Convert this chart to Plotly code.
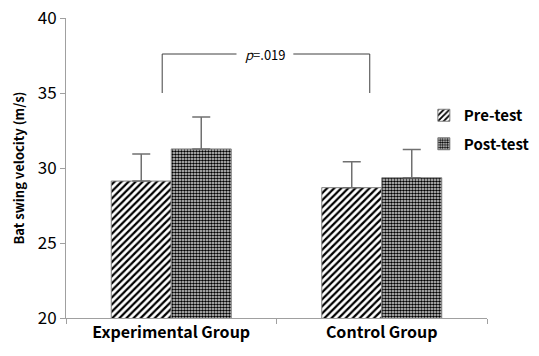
import plotly.graph_objects as go

groups = ["Experimental Group", "Control Group"]
pre_mean = [29.13, 28.69]
pre_sd = [1.8, 1.73]
post_mean = [31.27, 29.35]
post_sd = [2.13, 1.89]
y_ticks = [20, 25, 30, 35, 40]
p_label = "<i>p</i>=.019"

FONT = "Noto Sans CJK KR"

fig = go.Figure()
fig.add_trace(go.Bar(
    name="<b>Pre-test</b>", x=groups, y=pre_mean, legendgroup="a",
    marker=dict(color="white", line=dict(color="#808080", width=1),
                pattern=dict(shape="/", fgcolor="black", bgcolor="white", fgopacity=1,
                             size=5, solidity=0.45)),
    error_y=dict(type="data", array=pre_sd, arrayminus=[0, 0], symmetric=False,
                 color="#707070", thickness=1.5, width=9),
))
fig.add_trace(go.Bar(
    name="<b>Post-test</b>", x=groups, y=post_mean, legendgroup="b",
    marker=dict(color="white", line=dict(color="#808080", width=1),
                pattern=dict(shape=".", fgcolor="black", bgcolor="#e8e8e8", fgopacity=1,
                             size=3, solidity=0.6)),
    error_y=dict(type="data", array=post_sd, arrayminus=[0, 0], symmetric=False,
                 color="#707070", thickness=1.5, width=9),
))

# significance bracket
y_top = 37.6
y_bot = 35.0
xl, xr = -0.043, 0.943
line = dict(color="#404040", width=1)
fig.add_shape(type="line", xref="x", yref="y", x0=xl, x1=xl, y0=y_bot, y1=y_top, line=line)
fig.add_shape(type="line", xref="x", yref="y", x0=xr, x1=xr, y0=y_bot, y1=y_top, line=line)
fig.add_shape(type="line", xref="x", yref="y", x0=xl, x1=0.31, y0=y_top, y1=y_top, line=line)
fig.add_shape(type="line", xref="x", yref="y", x0=0.58, x1=xr, y0=y_top, y1=y_top, line=line)
fig.add_annotation(x=0.45, y=y_top, xref="x", yref="y", text=p_label, showarrow=False,
                   font=dict(family=FONT, size=13, color="black"))

fig.update_layout(
    width=539, height=356,
    margin=dict(l=66, r=52, t=18, b=38, autoexpand=False),
    paper_bgcolor="white", plot_bgcolor="white",
    barmode="group", bargap=0.43, bargroupgap=0,
    font=dict(family=FONT, color="black"),
    showlegend=True,
    legend=dict(x=0.85, y=0.73, xanchor="left", yanchor="top", bgcolor="rgba(0,0,0,0)",
                font=dict(family=FONT, size=15, color="black"), itemwidth=30,
                tracegroupgap=6),
    xaxis=dict(showline=True, linecolor="#a0a0a0", linewidth=1, ticks="outside",
               tickson="boundaries", ticklen=5, tickcolor="#a0a0a0", automargin=False,
               tickfont=dict(family=FONT, size=16, color="black"),
               tickvals=groups, ticktext=["<b>" + g + "</b>" for g in groups]),
    yaxis=dict(range=[20, 40], tickvals=y_ticks, showline=True, linecolor="#a0a0a0", linewidth=1,
               ticks="outside", ticklen=5, tickcolor="#a0a0a0", showgrid=False, zeroline=False,
               automargin=False, ticklabeloverflow="allow",
               tickfont=dict(family=FONT, size=17, color="black"),
               title=dict(text="<b>Bat swing velocity (m/s)</b>", font=dict(family=FONT, size=13), standoff=10)),
)

fig.write_html("out.html", config={"displayModeBar": False},
               post_script="document.body.style.margin='0';")
